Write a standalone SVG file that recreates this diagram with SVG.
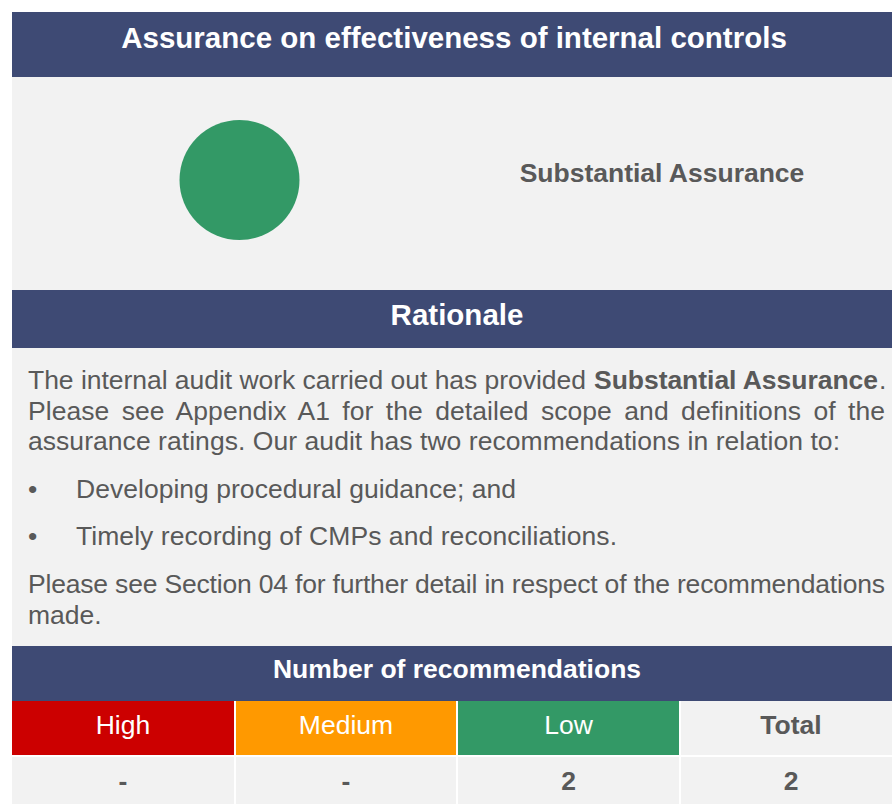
<svg xmlns="http://www.w3.org/2000/svg" width="892" height="804" viewBox="0 0 892 804">
<style>
.hdr{fill:#3e4a74}
.panel{fill:#f2f2f2}
.ht{font-family:"Liberation Sans",Arial,sans-serif;font-weight:bold;fill:#ffffff;text-anchor:middle}
.body{font-family:"Liberation Sans",Arial,sans-serif;font-size:26.5px;fill:#595959}
.b{font-weight:bold}
.cell{font-family:"Liberation Sans",Arial,sans-serif;font-size:26.5px;text-anchor:middle}
.w{fill:#ffffff}
.g{fill:#595959;font-weight:bold}
.sep{fill:#ffffff}
</style>
<rect x="0" y="0" width="892" height="804" fill="#ffffff"/>
<rect class="panel" x="12" y="77" width="880" height="727"/>

<g id="header-assurance">
  <rect class="hdr" x="12" y="12" width="880" height="65"/>
  <text class="ht" x="454" y="48" font-size="29.5">Assurance on effectiveness of internal controls</text>
</g>

<g id="assurance-rating">
  <circle cx="239.5" cy="180" r="60" fill="#339966"/>
  <text class="body b" x="662" y="182" text-anchor="middle">Substantial Assurance</text>
</g>

<g id="header-rationale">
  <rect class="hdr" x="12" y="290" width="880" height="58"/>
  <text class="ht" x="457" y="325" font-size="29.5">Rationale</text>
</g>

<g id="rationale-text">
  <text class="body" x="28" y="389" textLength="558" lengthAdjust="spacing">The internal audit work carried out has provided</text>
  <text class="body b" x="594" y="389" textLength="284" lengthAdjust="spacing">Substantial Assurance</text>
  <text class="body" x="879" y="389">.</text>
  <text class="body" x="28" y="420" word-spacing="5" textLength="857" lengthAdjust="spacing">Please see Appendix A1 for the detailed scope and definitions of the</text>
  <text class="body" x="28" y="450" textLength="812" lengthAdjust="spacing">assurance ratings. Our audit has two recommendations in relation to:</text>
  <text class="body" x="28" y="498">•</text>
  <text class="body" x="76" y="498" textLength="440" lengthAdjust="spacing">Developing procedural guidance; and</text>
  <text class="body" x="28" y="545">•</text>
  <text class="body" x="76" y="545" textLength="541" lengthAdjust="spacing">Timely recording of CMPs and reconciliations.</text>
  <text class="body" x="28" y="593" textLength="857" lengthAdjust="spacing">Please see Section 04 for further detail in respect of the recommendations</text>
  <text class="body" x="28" y="624">made.</text>
</g>

<g id="header-recommendations">
  <rect class="hdr" x="12" y="646" width="880" height="55"/>
  <text class="ht" x="457" y="678" font-size="26.5">Number of recommendations</text>
</g>

<g id="recommendations-table">
  <rect x="12" y="701" width="222" height="54" fill="#cc0000"/>
  <rect x="236" y="701" width="220" height="54" fill="#ff9900"/>
  <rect x="458" y="701" width="221" height="54" fill="#339966"/>
  <rect x="681" y="701" width="211" height="54" fill="#f2f2f2"/>
  <rect class="sep" x="12" y="755" width="880" height="2"/>
  <rect class="sep" x="234" y="701" width="2" height="103"/>
  <rect class="sep" x="456" y="701" width="2" height="103"/>
  <rect class="sep" x="679" y="701" width="2" height="103"/>
  <text class="cell w" x="123" y="734">High</text>
  <text class="cell w" x="346" y="734">Medium</text>
  <text class="cell w" x="568.5" y="734">Low</text>
  <text class="cell g" x="791" y="734">Total</text>
  <text class="cell g" x="123" y="790">-</text>
  <text class="cell g" x="346" y="790">-</text>
  <text class="cell g" x="568.5" y="790">2</text>
  <text class="cell g" x="791" y="790">2</text>
</g>

<g id="connectors"/>
</svg>
